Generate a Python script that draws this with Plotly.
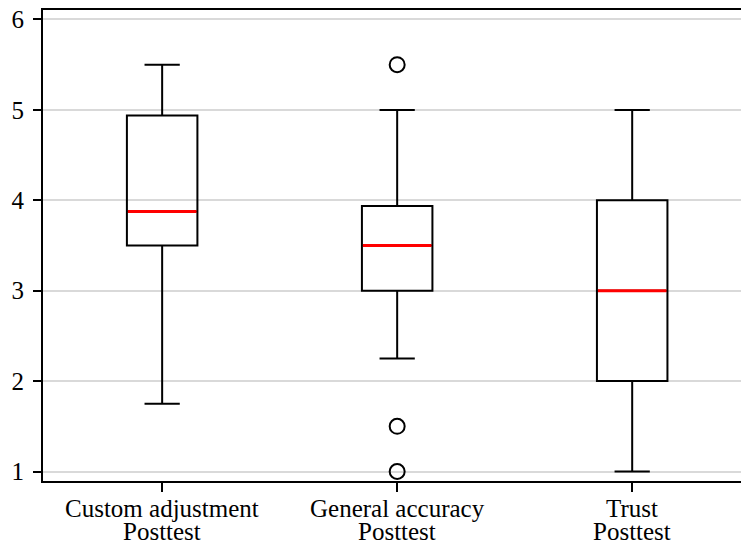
import plotly.graph_objects as go

# ---- data ----
cat_line1 = ["Custom adjustment", "General accuracy", "Trust"]
cat_line2 = ["Posttest", "Posttest", "Posttest"]
positions = [1, 2, 3]
q1 = [3.5, 3.0, 2.0]
median = [3.875, 3.5, 3.0]
q3 = [4.9375, 3.9375, 4.0]
lower_whisker = [1.75, 2.25, 1.0]
upper_whisker = [5.5, 5.0, 5.0]
outlier_x = [2, 2, 2]
outlier_y = [5.5, 1.5, 1.0]
y_ticks = [1, 2, 3, 4, 5, 6]

BOX_W = 0.3
FONT = "Liberation Serif, Times New Roman, serif"
FS = 25

fig = go.Figure()

fig.add_trace(go.Box(
    x=positions, q1=q1, median=median, q3=q3,
    lowerfence=lower_whisker, upperfence=upper_whisker,
    width=BOX_W, whiskerwidth=0.5,
    boxpoints=False,
    line=dict(color="black", width=2),
    fillcolor="rgba(0,0,0,0)",
    showlegend=False, hoverinfo="skip",
))

# red median lines
mx, my = [], []
for p, m in zip(positions, median):
    mx += [p - BOX_W / 2 + 0.004, p + BOX_W / 2 - 0.004, None]
    my += [m, m, None]
fig.add_trace(go.Scatter(
    x=mx, y=my, mode="lines",
    line=dict(color="#ff0000", width=3),
    showlegend=False, hoverinfo="skip",
))

# outliers
fig.add_trace(go.Scatter(
    x=outlier_x, y=outlier_y, mode="markers",
    marker=dict(symbol="circle-open", size=15, color="black", line=dict(width=2, color="black")),
    showlegend=False, hoverinfo="skip",
))

# two-line category labels
for p, t1, t2 in zip(positions, cat_line1, cat_line2):
    fig.add_annotation(
        x=p, xref="x", y=0, yref="paper", yanchor="middle",
        text=t1, showarrow=False, yshift=-27,
        font=dict(family=FONT, size=FS, color="black"),
    )
    fig.add_annotation(
        x=p, xref="x", y=0, yref="paper", yanchor="middle",
        text=t2, showarrow=False, yshift=-50,
        font=dict(family=FONT, size=FS, color="black"),
    )

fig.update_layout(
    width=741, height=544,
    margin=dict(l=43, r=0, t=10, b=63),
    plot_bgcolor="white", paper_bgcolor="white",
    font=dict(family=FONT, size=FS, color="black"),
    xaxis=dict(
        range=[0.493, 3.463],
        tickmode="array", tickvals=positions, showticklabels=False,
        showgrid=False, zeroline=False, automargin=False,
        showline=True, linecolor="black", linewidth=2, mirror=True,
        ticks="outside", ticklen=9, tickwidth=2, tickcolor="black",
    ),
    yaxis=dict(
        range=[0.895, 6.105],
        tickmode="array", tickvals=y_ticks,
        tickfont=dict(family=FONT, size=FS, color="black"),
        showgrid=True, gridcolor="#d9d9d9", gridwidth=2,
        zeroline=False, automargin=False,
        showline=True, linecolor="black", linewidth=2,
        ticks="outside", ticklen=8, tickwidth=2, tickcolor="black",
        ticklabelstandoff=4,
    ),
)

fig.write_html("out.html", post_script="document.body.style.margin='0';",
               config={"displayModeBar": False})
